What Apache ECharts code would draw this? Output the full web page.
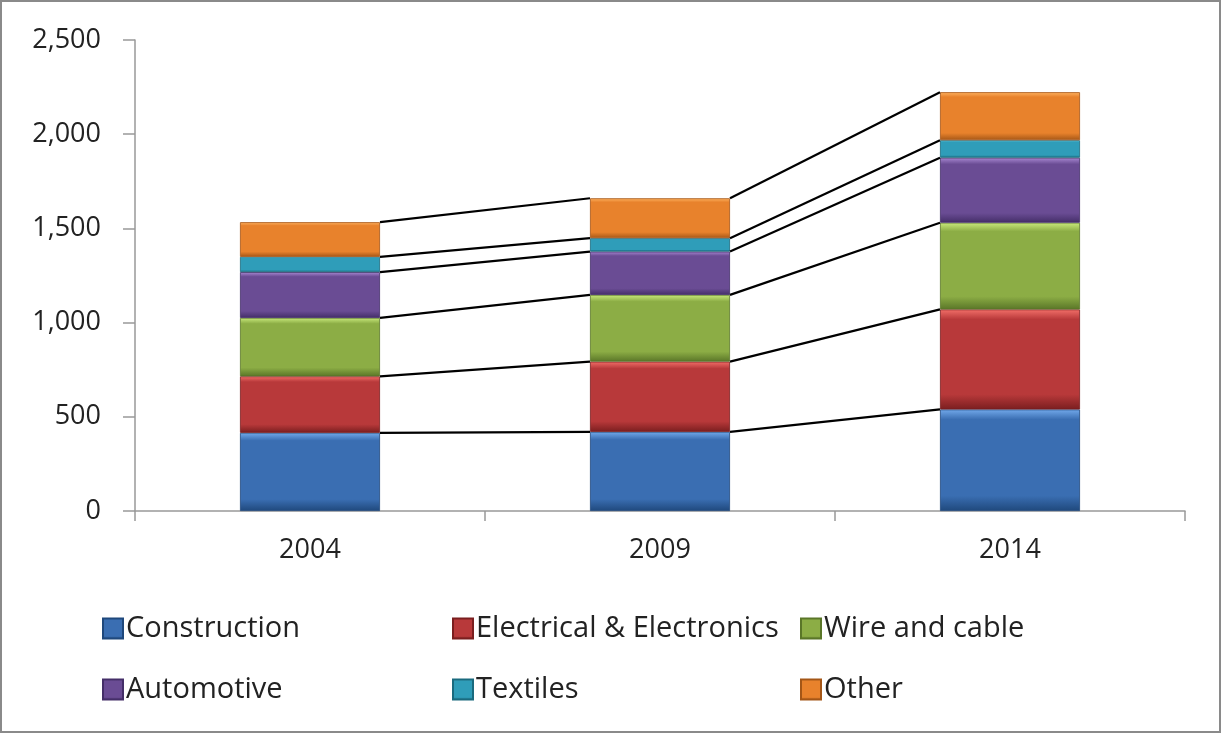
<!DOCTYPE html>
<html>
<head>
<meta charset="utf-8">
<script src="https://cdn.jsdelivr.net/npm/echarts@6/dist/echarts.min.js"></script>
<style>
html,body{margin:0;padding:0;background:#fff;}
#chart{width:1221px;height:733px;box-sizing:border-box;border:2px solid #8a8a8a;}
</style>
</head>
<body>
<div id="chart"></div>
<script>
const categories = ['2004', '2009', '2014'];
const construction = [415, 420, 539];
const electrical = [300, 373, 531];
const wireCable = [310, 354, 460];
const automotive = [243, 230, 345];
const textiles = [81, 71, 93];
const other = [184, 212, 255];
const yTicks = [0, 500, 1000, 1500, 2000, 2500];

const seriesNames = ['Construction', 'Electrical & Electronics', 'Wire and cable', 'Automotive', 'Textiles', 'Other'];
const seriesValues = [construction, electrical, wireCable, automotive, textiles, other];
const palette = [
  ['#72a9ea', '#3a6eb2', '#1f487c'],
  ['#f26f69', '#b8393a', '#7a1e1f'],
  ['#c9ea7c', '#8cad45', '#5a7628'],
  ['#a888d2', '#6a4c94', '#442e68'],
  ['#74e0f6', '#2f9db9', '#1a6a7e'],
  ['#ffb462', '#e8822c', '#a45616']
];

function grad(c) {
  return {
    type: 'linear', x: 0, y: 0, x2: 0, y2: 1,
    colorStops: [
      {offset: 0, color: c[0]},
      {offset: 0.1, color: c[1]},
      {offset: 0.85, color: c[1]},
      {offset: 1, color: c[2]}
    ]
  };
}

const barSeries = seriesNames.map((name, k) => ({
  name: name,
  type: 'bar',
  stack: 'total',
  barWidth: '40%',
  data: seriesValues[k],
  itemStyle: {color: grad(palette[k]), borderColor: palette[k][2], borderWidth: 0.8},
  emphasis: {disabled: true}
}));

// cumulative tops
const cum = categories.map((_, i) => {
  let s = 0;
  return seriesValues.map(arr => (s += arr[i]));
});
const connectorData = [];
for (let i = 0; i < categories.length - 1; i++) {
  for (let k = 0; k < seriesNames.length; k++) {
    connectorData.push([i, cum[i][k], cum[i + 1][k]]);
  }
}

const connectors = {
  type: 'custom',
  name: 'connectors',
  z: 5,
  silent: true,
  encode: {x: 0, y: [1, 2]},
  data: connectorData,
  renderItem: function (params, api) {
    const i = api.value(0);
    const p1 = api.coord([i, api.value(1)]);
    const p2 = api.coord([i + 1, api.value(2)]);
    const half = api.size([1, 0])[0] * 0.2;
    return {
      type: 'line',
      shape: {x1: p1[0] + half, y1: p1[1], x2: p2[0] - half, y2: p2[1]},
      style: {stroke: '#000', lineWidth: 2.2}
    };
  }
};

const fontFam = 'Open Sans';
function legendCol(names, left) {
  return {
    orient: 'vertical', left: left, top: 612, padding: 0,
    itemWidth: 20, itemHeight: 20, itemGap: 32,
    icon: 'rect',
    data: names,
    textStyle: {fontFamily: fontFam, fontSize: 29, color: '#222', padding: [0, 0, 0, -2]},
    selectedMode: false
  };
}

const chart = echarts.init(document.getElementById('chart'));
chart.setOption({
  animation: false,
  textStyle: {fontFamily: fontFam},
  grid: {left: 133, right: 34, top: 38, bottom: 220, containLabel: false},
  legend: [
    legendCol(['Construction', 'Automotive'], 100),
    legendCol(['Electrical & Electronics', 'Textiles'], 450),
    legendCol(['Wire and cable', 'Other'], 798)
  ],
  xAxis: {
    type: 'category',
    data: categories,
    axisLine: {lineStyle: {color: '#999', width: 1.5}},
    axisTick: {show: true, length: 10, lineStyle: {color: '#999', width: 1.5}},
    axisLabel: {color: '#222', fontSize: 27, margin: 26, fontFamily: fontFam}
  },
  yAxis: {
    type: 'value',
    min: yTicks[0], max: yTicks[yTicks.length - 1], interval: 500,
    splitLine: {show: false},
    axisLine: {show: true, lineStyle: {color: '#999', width: 1.5}},
    axisTick: {show: true, length: 12, lineStyle: {color: '#999', width: 1.5}},
    axisLabel: {
      color: '#222', fontSize: 27, margin: 34, fontFamily: fontFam,
      formatter: v => v.toLocaleString('en-US')
    }
  },
  series: [...barSeries, connectors]
});
</script>
</body>
</html>
